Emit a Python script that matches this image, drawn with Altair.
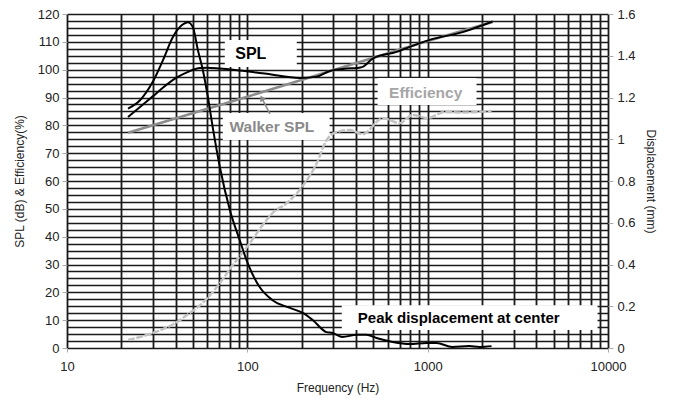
import altair as alt
import pandas as pd

# ---------------- data ----------------
# Peak displacement at center (mm, right axis)
disp_freq = [21.8, 25.4, 29.9, 34.1, 38.6, 43.4, 46.8, 49.9, 53.2, 56.6, 60.5, 64.4,
             70.4, 80.0, 90.7, 100.4, 117, 138, 172, 203, 231, 275, 297, 337, 404,
             458, 520, 640, 795, 985, 1120, 1370, 1700, 1940, 2260]
disp_mm = [1.147, 1.187, 1.275, 1.380, 1.489, 1.547, 1.561, 1.537, 1.427, 1.333, 1.200,
           1.053, 0.867, 0.661, 0.517, 0.407, 0.292, 0.229, 0.192, 0.168, 0.133, 0.076,
           0.072, 0.053, 0.063, 0.063, 0.048, 0.029, 0.019, 0.024, 0.024, 0.005, 0.009,
           0.005, 0.009]

# SPL (dB)
spl_freq = [21.8, 25.4, 30.0, 34.0, 40.7, 48.0, 54.6, 59.7, 70.4, 83.1, 128, 195, 243,
            286, 356, 404, 436, 496, 673, 795, 1026, 1564, 2291]
spl_db = [83.0, 86.6, 90.5, 93.5, 97.2, 99.5, 100.6, 100.7, 100.4, 100.0, 98.5, 97.0,
          97.5, 99.5, 100.4, 100.6, 101.0, 104.0, 106.4, 108.2, 110.7, 113.5, 117.3]

# Walker SPL (dB)
walker_freq = [21.8, 100, 1000, 2290]
walker_db = [77.3, 90.3, 110.3, 117.1]

# Efficiency (%)
eff_freq = [21.8, 30.0, 40.7, 48.0, 52.5, 67.8, 83.1, 99.5, 128, 138, 165, 195, 243,
            275, 313, 370, 436, 563, 700, 826, 1000, 1242, 1564, 2260]
eff_pct = [2.9, 5.4, 9.3, 12.6, 14.4, 21.9, 29.8, 36.3, 46.0, 48.5, 52.0, 56.8, 66.5,
           74.7, 77.6, 78.3, 76.8, 82.6, 80.8, 83.7, 82.6, 84.8, 84.6, 85.2]

# axes
x_grid = [10, 20, 30, 40, 50, 60, 70, 80, 90,
          100, 200, 300, 400, 500, 600, 700, 800, 900,
          1000, 2000, 3000, 4000, 5000, 6000, 7000, 8000, 9000, 10000]
x_labels = [10, 100, 1000, 10000]
y_grid = [i * 2.5 for i in range(49)]
disp_ticks = [0, 0.2, 0.4, 0.6, 0.8, 1.0, 1.2, 1.4, 1.6]

# annotation boxes (white) and texts
box_x1 = [75.0, 73.1, 528, 334]
box_x2 = [188, 286, 1866, 8750]
box_y1 = [101.0, 74.7, 87.3, 6.5]
box_y2 = [110.7, 84.4, 97.0, 15.4]
lab_text = ["SPL", "Walker SPL", "Efficiency", "Peak displacement at center"]
lab_f = [104.5, 136.8, 975, 1486]
lab_v = [105.6, 79.4, 91.6, 10.6]
lab_color = ["#000000", "#8a8a8a", "#a6a6a6", "#000000"]
lab_size = [16, 15.5, 15.5, 15]

# arrow for Walker SPL
arrow_f = [133.4, 120.3]
arrow_v = [84.1, 89.8]

# ---------------- chart ----------------
FONT = "Liberation Sans"

xscale = alt.Scale(type="log", domain=[10, 10000], nice=False)
yscale = alt.Scale(domain=[0, 120], nice=False, zero=False)
y2scale = alt.Scale(domain=[0, 1.6], nice=False, zero=False)

x_axis = alt.Axis(
    values=x_grid,
    labelExpr="indexof([10,100,1000,10000], datum.value) >= 0 ? format(datum.value, 'd') : ''",
    tickOpacity={"condition": {"test": "indexof([10,100,1000,10000], datum.value) >= 0", "value": 1}, "value": 0},
    grid=True, gridColor="#1a1a1a", gridWidth=1.8, gridOpacity=1,
    domain=False, tickColor="#aaaaaa", tickSize=4, labelPadding=8,
    labelOverlap=False, labelFlush=False, labelFontSize=13, labelColor="#222222",
    labelFont=FONT,
    title="Frequency (Hz)", titleFontSize=12, titleFontWeight="normal",
    titleColor="#222222", titleFont=FONT, titlePadding=9,
)
y_axis = alt.Axis(
    values=y_grid,
    labelExpr="datum.value % 10 == 0 ? format(datum.value, 'd') : ''",
    tickOpacity={"condition": {"test": "datum.value % 10 == 0", "value": 1}, "value": 0},
    grid=True, gridColor="#1a1a1a", gridWidth=1.5, gridOpacity=1,
    domain=False, tickColor="#aaaaaa", tickSize=5, labelPadding=3,
    labelOverlap=False, labelFlush=False, labelFontSize=13, labelColor="#222222",
    labelFont=FONT,
    title="SPL (dB) & Efficiency(%)", titleFontSize=12, titleFontWeight="normal",
    titleColor="#222222", titleFont=FONT, titlePadding=11,
)
y2_axis = alt.Axis(
    values=disp_ticks, format="~g", orient="right",
    grid=False, domain=False, tickColor="#aaaaaa", tickSize=5, labelPadding=4,
    labelOverlap=False, labelFlush=False, labelFontSize=13, labelColor="#222222",
    labelFont=FONT,
    title="Displacement (mm)", titleFontSize=12, titleFontWeight="normal",
    titleColor="#222222", titleFont=FONT, titlePadding=8,
)

X = alt.X("f:Q", scale=xscale, axis=x_axis)
Y = alt.Y("v:Q", scale=yscale, axis=y_axis)

spl_df = pd.DataFrame({"f": spl_freq, "v": spl_db})
walker_df = pd.DataFrame({"f": walker_freq, "v": walker_db})
eff_df = pd.DataFrame({"f": eff_freq, "v": eff_pct})
disp_df = pd.DataFrame({"f": disp_freq, "d": disp_mm})
box_df = pd.DataFrame({"f": box_x1, "f2": box_x2, "v": box_y1, "v2": box_y2})
lab_df = pd.DataFrame({"f": lab_f, "v": lab_v, "t": lab_text, "c": lab_color, "s": lab_size})
arrow_df = pd.DataFrame({"f": [arrow_f[0]], "f2": [arrow_f[1]], "v": [arrow_v[0]], "v2": [arrow_v[1]]})
head_df = pd.DataFrame({"f": [arrow_f[1]], "v": [arrow_v[1]]})

walker = alt.Chart(walker_df).mark_line(color="#8c8c8c", strokeWidth=2.6).encode(x=X, y=Y)
eff = alt.Chart(eff_df).mark_line(color="#c2c2c2", strokeWidth=2.4, strokeDash=[7, 1.5],
                                  interpolate="monotone").encode(x=X, y=Y)
spl = alt.Chart(spl_df).mark_line(color="#000000", strokeWidth=2,
                                  interpolate="monotone").encode(x=X, y=Y)
boxes = alt.Chart(box_df).mark_rect(color="white", opacity=1).encode(
    x=X, x2="f2:Q", y=Y, y2="v2:Q")
labels = alt.Chart(lab_df).mark_text(font=FONT, fontWeight="bold", align="center",
                                     baseline="middle").encode(
    x=X, y=Y, text="t:N",
    color=alt.Color("c:N", scale=None),
    size=alt.Size("s:Q", scale=None),
)
arrow = alt.Chart(arrow_df).mark_rule(color="#8a8a8a", strokeWidth=1.5).encode(
    x=X, x2="f2:Q", y=Y, y2="v2:Q")
head = alt.Chart(head_df).mark_point(shape="triangle-up", filled=True, color="#8a8a8a",
                                     size=45, angle=333, opacity=1).encode(x=X, y=Y)

left = alt.layer(boxes, walker, eff, spl, arrow, head, labels)

disp = alt.Chart(disp_df).mark_line(color="#000000", strokeWidth=2,
                                    interpolate="monotone").encode(
    x=X, y=alt.Y("d:Q", scale=y2scale, axis=y2_axis))

chart = alt.layer(left, disp).resolve_scale(y="independent").properties(
    width=541, height=334,
    autosize=alt.AutoSizeParams(type="none"),
    padding={"left": 67, "top": 14, "right": 70, "bottom": 50},
    background="white",
).configure_view(stroke=None)

chart.save("out.html", embed_options={"renderer": "svg", "actions": False})
